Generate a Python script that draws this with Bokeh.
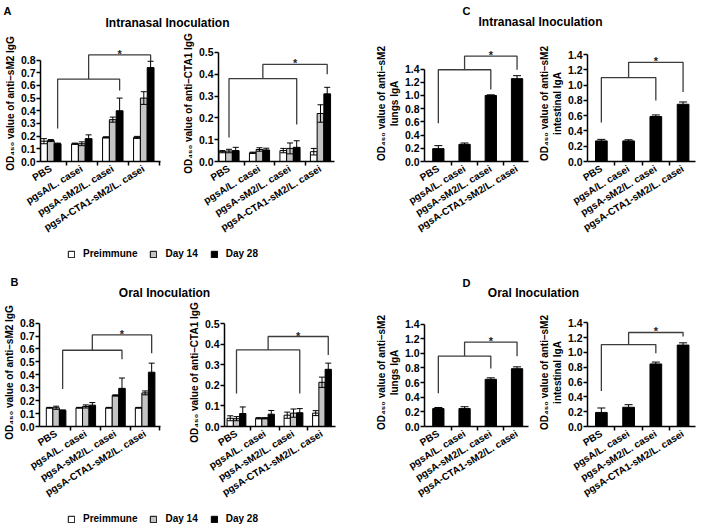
import math
from bokeh.plotting import figure
from bokeh.models import (Range1d, FixedTicker, PrintfTickFormatter, Whisker, TeeHead,
                          ColumnDataSource, Legend, LegendItem, Label)
from bokeh.layouts import column, row
from bokeh.embed import file_html
from bokeh.resources import INLINE
from bokeh.core.properties import value

FONT = "Liberation Sans"

# ---------------- data ----------------
groups = ["PBS", "pgsA/L. casei", "pgsA-sM2/L. casei", "pgsA-CTA1-sM2/L. casei"]
series = ["Preimmune", "Day 14", "Day 28"]
series_fill = ["#ffffff", "#c4c4c4", "#000000"]

# A: intranasal, serum IgG (rows = Preimmune, Day 14, Day 28)
a_sm2_mean = [[0.160, 0.140, 0.190, 0.190],
              [0.165, 0.140, 0.330, 0.500],
              [0.140, 0.180, 0.400, 0.740]]
a_sm2_err = [[0.020, 0.005, 0.005, 0.008],
             [0.008, 0.015, 0.020, 0.050],
             [0.005, 0.030, 0.100, 0.050]]
a_cta1_mean = [[0.045, 0.040, 0.050, 0.045],
               [0.048, 0.055, 0.060, 0.220],
               [0.050, 0.053, 0.065, 0.310]]
a_cta1_err = [[0.005, 0.003, 0.010, 0.015],
              [0.008, 0.008, 0.025, 0.040],
              [0.015, 0.008, 0.030, 0.030]]
# B: oral, serum IgG
b_sm2_mean = [[0.145, 0.145, 0.145, 0.145],
              [0.145, 0.155, 0.240, 0.260],
              [0.125, 0.165, 0.295, 0.420]]
b_sm2_err = [[0.003, 0.003, 0.003, 0.003],
             [0.012, 0.012, 0.005, 0.015],
             [0.003, 0.020, 0.080, 0.070]]
b_cta1_mean = [[0.040, 0.040, 0.055, 0.065],
               [0.038, 0.040, 0.065, 0.215],
               [0.063, 0.060, 0.067, 0.278]]
b_cta1_err = [[0.012, 0.003, 0.015, 0.012],
              [0.010, 0.003, 0.020, 0.025],
              [0.032, 0.018, 0.020, 0.030]]
# C: intranasal, mucosal IgA
c_lung_mean = [0.195, 0.260, 1.000, 1.255]
c_lung_err = [0.045, 0.020, 0.010, 0.045]
c_int_mean = [0.270, 0.270, 0.590, 0.750]
c_int_err = [0.020, 0.015, 0.020, 0.030]
# D: oral, mucosal IgA
d_lung_mean = [0.245, 0.245, 0.645, 0.790]
d_lung_err = [0.015, 0.025, 0.020, 0.025]
d_int_mean = [0.190, 0.260, 0.845, 1.100]
d_int_err = [0.060, 0.035, 0.025, 0.030]

# significance brackets: lower (x0, x1, y, leg0_end, leg1_end), upper (x1, y, leg_end)
br_a_sm2 = dict(lo=(0.22, 2.22, 0.65, 0.26, 0.56), up=(3.22, 0.84, 0.79))
br_a_cta1 = dict(lo=(0.0, 2.22, 0.38, 0.11, 0.17), up=(3.22, 0.445, 0.40))
br_b_sm2 = dict(lo=(0.22, 2.22, 0.59, 0.29, 0.52), up=(3.22, 0.708, 0.566))
br_b_cta1 = dict(lo=(0.0, 2.22, 0.372, 0.16, 0.16), up=(3.22, 0.4375, 0.347))
br_c_lung = dict(lo=(0.0, 2.0, 1.39, 0.58, 1.09), up=(3.0, 1.595, 1.39))
br_c_int = dict(lo=(0.0, 2.0, 1.10, 0.51, 0.80), up=(3.0, 1.30, 0.91))
br_d_lung = dict(lo=(0.0, 2.0, 0.963, 0.454, 0.793), up=(3.0, 1.154, 0.96))
br_d_int = dict(lo=(0.0, 2.0, 1.106, 0.478, 0.988), up=(3.0, 1.27, 1.216))

LBL_IGG_SM2 = "OD\u2084\u2085\u2080 value of anti\u2013sM2 IgG"
LBL_IGG_CTA1 = "OD\u2084\u2085\u2080 value of anti\u2013CTA1 IgG"
LBL_LUNG = "OD\u2084\u2085\u2080 value of anti\u2013sM2\nlungs IgA"
LBL_INT = "OD\u2084\u2085\u2080 value of anti\u2013sM2\nintestinal IgA"


# ---------------- helpers ----------------
def base_fig(fx0, fx1, frx0, frx1, row_top, row_h, fr_top, fr_bot, ppu,
             x0, x1, y_top, y_step, ylabel):
    y_end = (fr_bot - fr_top) / ppu
    p = figure(width=fx1 - fx0, height=row_h,
               x_range=Range1d(x0, x1), y_range=Range1d(0, y_end),
               output_backend="svg", toolbar_location=None,
               min_border_left=frx0 - fx0, min_border_right=fx1 - frx1,
               min_border_top=fr_top - row_top,
               min_border_bottom=row_top + row_h - fr_bot)
    p.grid.visible = False
    p.outline_line_color = None
    n = int(round(y_top / y_step))
    yax = p.yaxis[0]
    yax.ticker = FixedTicker(ticks=[round(i * y_step, 3) for i in range(n + 1)])
    yax.formatter = PrintfTickFormatter(format="%.1f")
    yax.bounds = (0, y_top)
    yax.axis_label = ylabel
    yax.axis_label_text_font = FONT
    yax.axis_label_text_font_size = "10px"
    yax.axis_label_text_font_style = "bold"
    yax.axis_label_text_color = "black"
    yax.axis_label_standoff = 2
    yax.major_label_text_font = FONT
    yax.major_label_text_font_size = "10.5px"
    yax.major_label_text_font_style = "bold"
    yax.major_label_text_color = "black"
    yax.major_label_standoff = 1
    yax.major_tick_out = 4
    yax.major_tick_in = 0
    yax.minor_tick_line_color = None
    yax.axis_line_width = 1.5
    yax.major_tick_line_width = 1.5
    xax = p.xaxis[0]
    xax.ticker = FixedTicker(ticks=[0, 1, 2, 3], minor_ticks=[0.5, 1.5, 2.5, 3.5])
    xax.major_label_overrides = {i: g for i, g in enumerate(groups)}
    xax.major_label_orientation = 0.55
    xax.major_label_text_font = FONT
    xax.major_label_text_font_size = "10px"
    xax.major_label_text_font_style = "bold"
    xax.major_label_text_color = "black"
    xax.major_label_standoff = 2
    xax.major_tick_out = 0
    xax.major_tick_in = 0
    xax.minor_tick_out = 4
    xax.minor_tick_in = 0
    xax.minor_tick_line_width = 1.5
    xax.minor_tick_line_color = "black"
    xax.axis_line_width = 1.5
    return p


def add_whisker(p, xs, means, errs, cap):
    src = ColumnDataSource(dict(x=xs,
                                upper=[m + e for m, e in zip(means, errs)],
                                lower=[m - e for m, e in zip(means, errs)]))
    w = Whisker(source=src, base="x", upper="upper", lower="lower",
                line_color="black", line_width=1, level="annotation",
                upper_head=TeeHead(size=cap, line_width=1, line_color="black"),
                lower_head=TeeHead(size=cap, line_width=1, line_color="black"))
    p.add_layout(w)


def grouped(p, means, errs):
    offs = [-0.22, 0.0, 0.22]
    for k in range(3):
        xs = [i + offs[k] for i in range(len(groups))]
        src = ColumnDataSource(dict(x=xs, top=means[k]))
        p.vbar(x="x", top="top", width=0.22, source=src, fill_color=series_fill[k],
               line_color="black", line_width=1)
    for k in range(3):
        xs = [i + offs[k] for i in range(len(groups))]
        add_whisker(p, xs, means[k], errs[k], 6)


def single(p, means, errs):
    xs = list(range(len(groups)))
    src = ColumnDataSource(dict(x=xs, top=means))
    p.vbar(x="x", top="top", width=0.43, source=src, fill_color="black",
           line_color="black", line_width=1)
    add_whisker(p, xs, means, errs, 8)


def brackets(p, br):
    x0, x1, y, l0, l1 = br["lo"]
    ux1, uy, ul = br["up"]
    xm = (x0 + x1) / 2
    p.multi_line(xs=[[x0, x0, x1, x1], [xm, xm, ux1, ux1]],
                 ys=[[l0, y, y, l1], [y, uy, uy, ul]],
                 line_color="#3c3c3c", line_width=1.3)
    p.text(x=[(xm + ux1) / 2], y=[uy], text=["*"], text_font=value(FONT),
           text_font_style="bold", text_font_size="11px", text_align="center",
           text_baseline="alphabetic", y_offset=-1, text_color="#222222")


def text_fig(w, h, items):
    t = figure(width=w, height=h, x_range=Range1d(0, w), y_range=Range1d(h, 0),
               x_axis_location=None, y_axis_location=None, output_backend="svg",
               toolbar_location=None, min_border=0)
    t.grid.visible = False
    t.outline_line_color = None
    for (x, y, s, size, align) in items:
        t.add_layout(Label(x=x, y=y, text=s, text_font=FONT, text_font_size=size,
                           text_font_style="bold", text_align=align,
                           text_baseline="middle", text_color="black"))
    return t


def legend_fig(w, h, lx, ly):
    t = figure(width=w, height=h, x_range=Range1d(10, 11), y_range=Range1d(10, 11),
               x_axis_location=None, y_axis_location=None, output_backend="svg",
               toolbar_location=None, min_border=0)
    t.grid.visible = False
    t.outline_line_color = None
    items = []
    for name, col in zip(series, series_fill):
        src = ColumnDataSource(dict(x=[0], top=[0]))
        r = t.vbar(x="x", top="top", width=0, source=src, fill_color=col,
                   line_color="black", line_width=1)
        items.append(LegendItem(label=name, renderers=[r]))
    leg = Legend(items=items, orientation="horizontal", location=(lx, ly),
                 glyph_width=8, glyph_height=8, label_standoff=8, spacing=12,
                 label_width=10, label_height=10, padding=0, margin=0,
                 border_line_color=None, background_fill_alpha=0,
                 label_text_font=FONT, label_text_font_size="10px",
                 label_text_font_style="bold", label_text_color="black")
    t.add_layout(leg)
    return t


# ---------------- layout (page coordinates, origin top-left) ----------------
R1_TOP, R1_H, R1_BOT = 29, 211, 166
R2_TOP, R2_H, R2_BOT = 300, 205, 434

A1 = base_fig(0, 172, 40, 160, R1_TOP, R1_H, 30, R1_BOT, 148.75,
              (40 - 50.3) / 31, (160 - 50.3) / 31, 0.8, 0.1, LBL_IGG_SM2)
grouped(A1, a_sm2_mean, a_sm2_err)
brackets(A1, br_a_sm2)

A2 = base_fig(172, 372, 218, 334, R1_TOP, R1_H, 40, R1_BOT, 237.0,
              (218 - 228.5) / 30.5, (334 - 228.5) / 30.5, 0.5, 0.1, LBL_IGG_CTA1)
grouped(A2, a_cta1_mean, a_cta1_err)
brackets(A2, br_a_cta1)

C1 = base_fig(372, 535, 419, 528, R1_TOP, R1_H, 30, R1_BOT, 77.4,
              (419 - 433.5) / 27.5, (528 - 433.5) / 27.5, 1.4, 0.2, LBL_LUNG)
single(C1, c_lung_mean, c_lung_err)
brackets(C1, br_c_lung)

C2 = base_fig(535, 705, 582, 695, R1_TOP, R1_H, 45, R1_BOT, 79.6,
              (582 - 596.5) / 28.5, (695 - 596.5) / 28.5, 1.4, 0.2, LBL_INT)
single(C2, c_int_mean, c_int_err)
brackets(C2, br_c_int)

B1 = base_fig(0, 172, 34, 160, R2_TOP, R2_H, 316, R2_BOT, 141.25,
              (34 - 51.3) / 30.9, (160 - 51.3) / 30.9, 0.8, 0.1, LBL_IGG_SM2)
grouped(B1, b_sm2_mean, b_sm2_err)
brackets(B1, br_b_sm2)

B2 = base_fig(172, 372, 224, 335, R2_TOP, R2_H, 308, R2_BOT, 240.0,
              (224 - 236) / 28.5, (335 - 236) / 28.5, 0.5, 0.1, LBL_IGG_CTA1)
grouped(B2, b_cta1_mean, b_cta1_err)
brackets(B2, br_b_cta1)

D1 = base_fig(372, 535, 419, 528, R2_TOP, R2_H, 318, R2_BOT, 78.6,
              (419 - 433.5) / 27.5, (528 - 433.5) / 27.5, 1.4, 0.2, LBL_LUNG)
single(D1, d_lung_mean, d_lung_err)
brackets(D1, br_d_lung)

D2 = base_fig(535, 705, 582, 695, R2_TOP, R2_H, 310, R2_BOT, 85.0,
              (582 - 596.5) / 28.5, (695 - 596.5) / 28.5, 1.4, 0.2, LBL_INT)
single(D2, d_int_mean, d_int_err)
brackets(D2, br_d_int)

W = 705
head1 = text_fig(W, R1_TOP, [
    (3, 10, "A", "11px", "left"),
    (167, 22, "Intranasal Inoculation", "12px", "center"),
    (462, 10, "C", "11px", "left"),
    (540, 21, "Intranasal Inoculation", "12px", "center"),
])
leg1 = legend_fig(W, 265 - (R1_TOP + R1_H), 67, 6)
head2 = text_fig(W, R2_TOP - 265, [
    (10, 16, "B", "11px", "left"),
    (164, 27, "Oral Inoculation", "12px", "center"),
    (462, 17, "D", "11px", "left"),
    (533, 27, "Oral Inoculation", "12px", "center"),
])
leg2 = legend_fig(W, 529 - (R2_TOP + R2_H), 67, 5)

layout = column(head1, row(A1, A2, C1, C2), leg1, head2, row(B1, B2, D1, D2), leg2)

open("out.html", "w").write(file_html(layout, INLINE))
